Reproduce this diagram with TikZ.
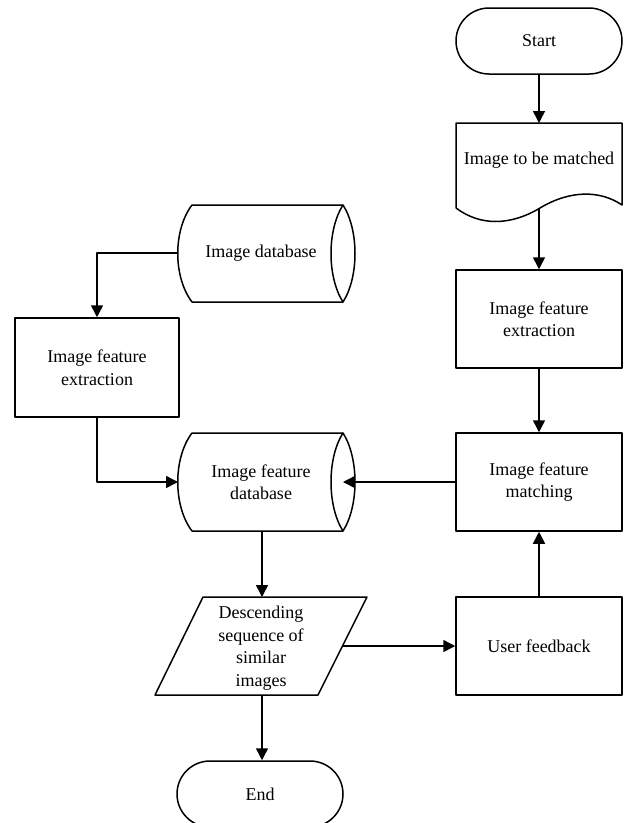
\documentclass[tikz,border=0pt]{standalone}
\usepackage{fontspec}
\setmainfont{Liberation Serif}
\usetikzlibrary{arrows.meta}

\begin{document}
\begin{tikzpicture}[x=1pt,y=-1pt,line width=1.5pt,line join=round,
  every node/.style={font=\fontsize{18}{22.5}\selectfont,align=center},
  box/.style={draw,minimum width=166pt,minimum height=98pt,inner sep=0pt},
  term/.style={draw,minimum width=166pt,minimum height=66pt,rounded corners=33pt},
  flow/.style={-{Triangle[length=12pt,width=12pt]}}]
\useasboundingbox (0,0) rectangle (624,823);

% right column
\node[term] (start) at (539,41) {Start};
\draw (456,208) -- (456,123) -- (622,123) -- (622,205)
  .. controls (600,190) and (570,190) .. (540,208)
  .. controls (510,226) and (480,226) .. (456,208);
\node (doc) at (539,160) {Image to be matched};
\coordinate (docT) at (539,123);
\coordinate (docB) at (539,208);
\node[box] (fextR) at (539,319) {Image feature\\extraction};
\node[box] (match) at (539,482) {Image feature\\matching};
\node[box] (feedback) at (539,646) {User feedback};

% image database (horizontal cylinder)
\draw (343,205) -- (192,205) .. controls (173,230) and (173,277) .. (192,302) -- (343,302);
\draw (343,205) .. controls (359,230) and (359,277) .. (343,302)
                .. controls (327,277) and (327,230) .. cycle;
\node (idb) at (261,253) {Image database};
\coordinate (idbW) at (178,253);

% left feature extraction
\node[box,minimum width=164pt,minimum height=99pt] (fextL) at (97,367.5) {Image feature\\extraction};

% image feature database (horizontal cylinder)
\draw (343,433) -- (192,433) .. controls (173,458) and (173,506) .. (192,531) -- (343,531);
\draw (343,433) .. controls (359,458) and (359,506) .. (343,531)
                .. controls (327,506) and (327,458) .. cycle;
\node (fdb) at (261,482) {Image feature\\database};
\coordinate (fdbW) at (178,482);
\coordinate (fdbE) at (343,482);
\coordinate (fdbB) at (262,531);

% result list (parallelogram)
\draw (203,597) -- (367,597) -- (318,695) -- (155,695) -- cycle;
\node (desc) at (261,648) {Descending\\sequence of\\similar\\images};
\coordinate (descT) at (262,597);
\coordinate (descB) at (262,695);
\coordinate (descE) at (343,646);

\node[term] (end) at (260,794) {End};

% connectors
\draw[flow] (start.south) -- (docT);
\draw[flow] (docB) -- (fextR.north);
\draw[flow] (fextR.south) -- (match.north);
\draw[flow] (feedback.north) -- (match.south);
\draw[flow] (match.west) -- (fdbE);
\draw[flow] (idbW) -| (fextL.north);
\draw[flow] (fextL.south) |- (fdbW);
\draw[flow] (fdbB) -- (descT);
\draw[flow] (descE) -- (feedback.west);
\draw[flow] (descB) -- (descB |- end.north);
\end{tikzpicture}
\end{document}
